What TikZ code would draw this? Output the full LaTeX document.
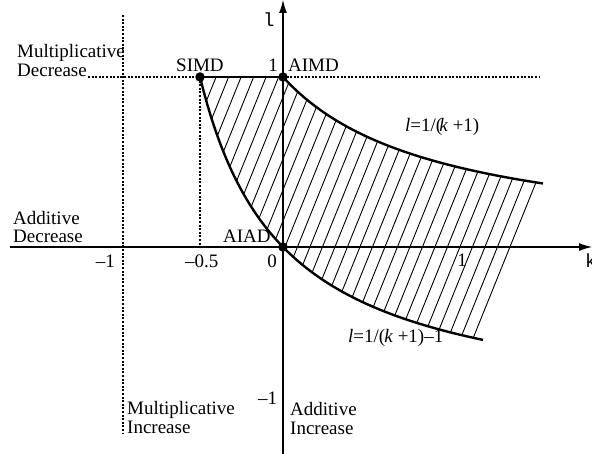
\documentclass[tikz,border=0pt]{standalone}
\usepackage{fontspec}
\setmainfont{Liberation Serif}
\setmonofont{Liberation Mono}
\usetikzlibrary{arrows.meta}
\begin{document}
\begin{tikzpicture}[x=1pt,y=-1pt,
  lbl/.style={inner sep=0pt, font=\fontsize{19}{19}\selectfont},
  ttl/.style={inner sep=0pt, font=\fontsize{19}{19}\selectfont\ttfamily},
  axisline/.style={line width=1.1pt, -{Latex[length=13pt,width=8pt]}},
  dotline/.style={line width=1.2pt, dash pattern=on 2pt off 1.6pt},
  bnd/.style={line width=2.4pt},
  hatchline/.style={line width=0.9pt},
  pt/.style={fill=black, circle, inner sep=0pt, minimum size=9.5pt}
]
\useasboundingbox (0,0) rectangle (592,454);

% coordinates
\coordinate (xs) at (10,247);
\coordinate (xe) at (592,247);
\coordinate (ys) at (283,454);
\coordinate (ye) at (283,0);
\coordinate (d1a) at (123,15);
\coordinate (d1b) at (123,433);
\coordinate (d2b) at (200,247);
\coordinate (h1a) at (88,77);
\coordinate (h2b) at (540,77);
\coordinate (simd) at (200,77);
\coordinate (aimd) at (283,77);
\coordinate (aiad) at (283,247);

% hatching
\begin{scope}
\clip (simd) -- (aimd)
  -- plot[domain=283:543,samples=60] (\x,{247-170/(1+(\x-283)/155)})
  -- plot[domain=483:200,samples=80] (\x,{247-170*(1/(1+(\x-283)/166)-1)})
  -- cycle;
\foreach \n in {0,...,42}
  \draw[hatchline] ({609.7-12.5*\n},0) -- ({609.7-12.5*\n-183.4},454);
\end{scope}

% dotted guides
\draw[dotline] (d1a) -- (d1b);
\draw[dotline] (simd) -- (d2b);
\draw[dotline] (h1a) -- (simd);
\draw[dotline] (aimd) -- (h2b);

% axes
\draw[axisline] (xs) -- (xe);
\draw[axisline] (ys) -- (ye);

% boundary
\draw[bnd] (simd) -- (aimd);
\draw[bnd] plot[domain=283:543,samples=60] (\x,{247-170/(1+(\x-283)/155)});
\draw[bnd] plot[domain=200:483,samples=80] (\x,{247-170*(1/(1+(\x-283)/166)-1)});

% points
\node[pt] (psimd) at (simd) {};
\node[pt] (paimd) at (aimd) {};
\node[pt] (paiad) at (aiad) {};

% labels
\node[lbl, anchor=base west] (md1) at (17,58) {Multiplicative};
\node[lbl, anchor=base west] (md2) at (17,77) {Decrease};
\node[lbl, anchor=base west] (ad1) at (13,225) {Additive};
\node[lbl, anchor=base west] (ad2) at (13,243) {Decrease};
\node[lbl, anchor=base west] (lsimd) at (176,72) {SIMD};
\node[lbl, anchor=base east] (lone) at (278,72) {1};
\node[lbl, anchor=base west] (laimd) at (288,72) {AIMD};
\node[lbl, anchor=base west] (laiad) at (223,243) {AIAD};
\node[lbl, anchor=base east] (xm1) at (115,268) {\textendash1};
\node[lbl, anchor=base west] (xm05) at (185,268) {\textendash0.5};
\node[lbl, anchor=base] (x0) at (272,268) {0};
\node[lbl, anchor=base] (x1) at (462,267) {1};
\node[ttl, anchor=base west] (kl) at (585,268) {k};
\node[ttl, anchor=base west] (ll) at (263,27) {l};
\node[lbl, anchor=base west] (cu) at (405,132) {\textit{l}=1/(\kern-3pt\textit{k} +1)};
\node[lbl, anchor=base west] (cl) at (348,343) {\textit{l}=1/(\kern-1pt\textit{k} +1)\textendash1};
\node[lbl, anchor=base west] (mi1) at (127,414) {Multiplicative};
\node[lbl, anchor=base west] (mi2) at (127,433) {Increase};
\node[lbl, anchor=base west] (ym1) at (258,405) {\textendash1};
\node[lbl, anchor=base west] (ai1) at (290,415) {Additive};
\node[lbl, anchor=base west] (ai2) at (290,434) {Increase};
\end{tikzpicture}
\end{document}
